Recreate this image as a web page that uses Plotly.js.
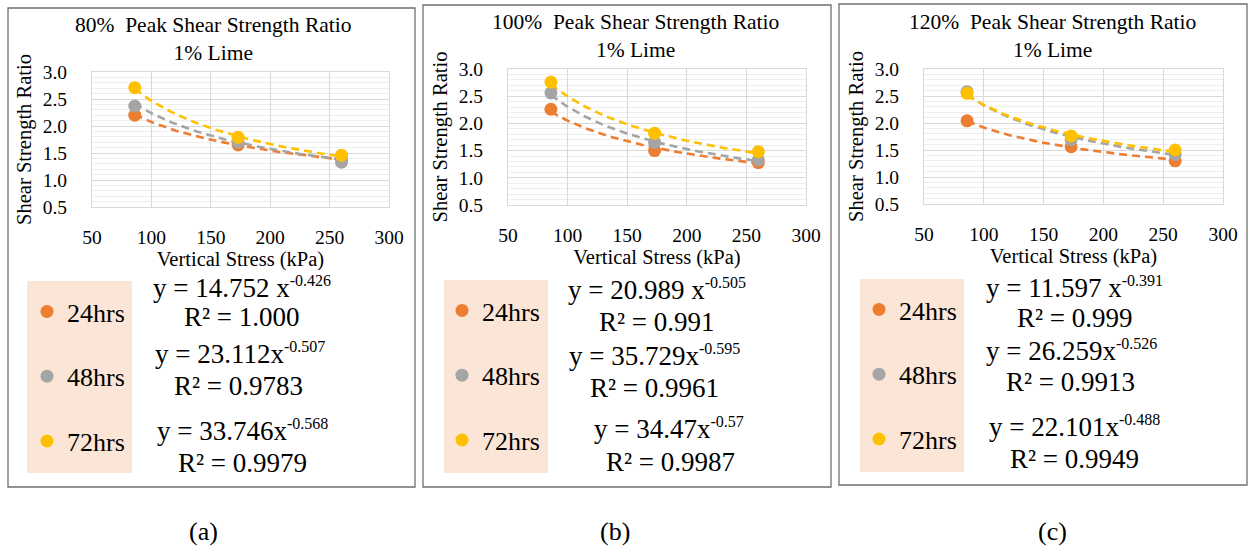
<!DOCTYPE html>
<html>
<head>
<meta charset="utf-8">
<script src="https://cdn.plot.ly/plotly-3.0.1.min.js"></script>
<style>html,body{margin:0;padding:0;background:#fff;}#chart{width:1251px;height:549px;}</style>
</head>
<body>
<div id="chart"></div>
<script>
// ---------- data ----------
const stress = [86, 173, 260];               // Vertical Stress (kPa)
const seriesNames = ['24hrs', '48hrs', '72hrs'];
const seriesColors = ['#ED7D31', '#A5A5A5', '#FFC000'];

// (a) 80% Peak Shear Strength Ratio
const p80_24 = [2.20, 1.65, 1.38];
const p80_48 = [2.37, 1.70, 1.33];
const p80_72 = [2.71, 1.79, 1.46];
const p80_coef = [14.752, 23.112, 33.746];
const p80_exp = [-0.426, -0.507, -0.568];
const p80_eqBase = ['y = 14.752 x', 'y = 23.112x', 'y = 33.746x'];
const p80_eqExp = ['-0.426', '-0.507', '-0.568'];
const p80_r2 = ['R² = 1.000', 'R² = 0.9783', 'R² = 0.9979'];

// (b) 100% Peak Shear Strength Ratio
const p100_24 = [2.26, 1.50, 1.28];
const p100_48 = [2.56, 1.65, 1.33];
const p100_72 = [2.76, 1.82, 1.48];
const p100_coef = [20.989, 35.729, 34.47];
const p100_exp = [-0.505, -0.595, -0.57];
const p100_eqBase = ['y = 20.989 x', 'y = 35.729x', 'y = 34.47x'];
const p100_eqExp = ['-0.505', '-0.595', '-0.57'];
const p100_r2 = ['R² = 0.991', 'R² = 0.9961', 'R² = 0.9987'];

// (c) 120% Peak Shear Strength Ratio
const p120_24 = [2.04, 1.56, 1.30];
const p120_48 = [2.58, 1.69, 1.42];
const p120_72 = [2.55, 1.76, 1.50];
const p120_coef = [11.597, 26.259, 22.101];
const p120_exp = [-0.391, -0.526, -0.488];
const p120_eqBase = ['y = 11.597 x', 'y = 26.259x', 'y = 22.101x'];
const p120_eqExp = ['-0.391', '-0.526', '-0.488'];
const p120_r2 = ['R² = 0.999', 'R² = 0.9913', 'R² = 0.9949'];

const panelTitles = ['80%\u00a0\u00a0Peak Shear Strength Ratio<br>1% Lime',
                     '100%\u00a0\u00a0Peak Shear Strength Ratio<br>1% Lime',
                     '120%\u00a0\u00a0Peak Shear Strength Ratio<br>1% Lime'];
const captions = ['(a)', '(b)', '(c)'];
const xTitle = 'Vertical Stress (kPa)';
const yTitle = 'Shear Strength Ratio';

// ---------- layout geometry (pixels) ----------
const W = 1251, H = 549;
const px = x => x / W;
const py = y => 1 - y / H;
const FONT = 'Liberation Serif, Times New Roman, serif';

const panels = [
  {vals: [p80_24, p80_48, p80_72], coef: p80_coef, ex: p80_exp, eqB: p80_eqBase, eqE: p80_eqExp, r2: p80_r2,
   frame: [8, 8, 415, 487], plot: [92, 72, 389, 207], titleX: 213, titleY: 39,
   legRect: [27, 281, 132, 473], legX: 27, eqX: [242, 242, 240, 239, 242, 242],
   eqY: [287, 317, 353, 386, 430, 463], capX: 203},
  {vals: [p100_24, p100_48, p100_72], coef: p100_coef, ex: p100_exp, eqB: p100_eqBase, eqE: p100_eqExp, r2: p100_r2,
   frame: [423, 5, 831, 487], plot: [508, 69, 806, 205], titleX: 635, titleY: 36,
   legRect: [444, 280, 548, 473], legX: 442, eqX: [657, 657, 654, 654, 669, 670],
   eqY: [289, 322, 355, 388, 428, 462], capX: 615},
  {vals: [p120_24, p120_48, p120_72], coef: p120_coef, ex: p120_exp, eqB: p120_eqBase, eqE: p120_eqExp, r2: p120_r2,
   frame: [839, 4, 1247, 485], plot: [924, 69, 1223, 204], titleX: 1052, titleY: 36,
   legRect: [860, 279, 964, 472], legX: 859, eqX: [1074, 1075, 1071, 1070, 1074, 1074],
   eqY: [287, 318, 350, 382, 426, 459], capX: 1052}
];

const traces = [];
const shapes = [];
const annotations = [];
const layout = {
  width: W, height: H,
  margin: {l: 0, r: 0, t: 0, b: 0},
  paper_bgcolor: '#ffffff', plot_bgcolor: '#ffffff',
  font: {family: FONT, color: '#000000'},
  showlegend: true
};

panels.forEach((p, i) => {
  const sfx = i === 0 ? '' : String(i + 1);
  const xa = 'x' + sfx, ya = 'y' + sfx;
  const legName = 'legend' + sfx;

  // power-law trendlines drawn from the displayed fitted equations
  p.vals.forEach((v, s) => {
    const xs = [], ys = [];
    const x0 = stress[0], x1 = stress[stress.length - 1];
    for (let k = 0; k <= 60; k++) {
      const x = x0 + (x1 - x0) * k / 60;
      xs.push(x);
      ys.push(p.coef[s] * Math.pow(x, p.ex[s]));
    }
    traces.push({type: 'scatter', mode: 'lines', x: xs, y: ys, xaxis: xa, yaxis: ya,
      line: {color: seriesColors[s], width: 2.6, dash: '8px,5px'},
      showlegend: false, hoverinfo: 'skip'});
  });
  // data markers
  p.vals.forEach((v, s) => {
    traces.push({type: 'scatter', mode: 'markers', x: stress, y: v, xaxis: xa, yaxis: ya,
      name: seriesNames[s], legend: legName, legendgroup: 'g' + i + s,
      marker: {color: seriesColors[s], size: 13}});
  });

  const [pl, pt, pr, pb] = p.plot;
  layout['xaxis' + sfx] = {
    domain: [px(pl), px(pr)], anchor: ya, range: [50, 300], dtick: 50, tick0: 50,
    showgrid: true, gridcolor: '#D9D9D9', gridwidth: 1,
    showline: true, linecolor: '#D9D9D9', mirror: true, zeroline: false,
    ticks: '', ticklabelstandoff: 13,
    tickfont: {family: FONT, size: 19.5, color: '#000'},
    title: {text: xTitle, font: {family: FONT, size: 20.5, color: '#000'}, standoff: 0},
    fixedrange: true
  };
  layout['yaxis' + sfx] = {
    domain: [py(pb), py(pt)], anchor: xa, range: [0.5, 3.0], dtick: 0.5, tick0: 0.5,
    tickformat: '.1f',
    showgrid: true, gridcolor: '#D9D9D9', gridwidth: 1,
    minor: {dtick: 0.1, showgrid: true, gridcolor: '#EEEEEE', gridwidth: 1, ticks: ''},
    showline: true, linecolor: '#D9D9D9', mirror: true, zeroline: false,
    ticks: '', ticklabelstandoff: 20,
    tickfont: {family: FONT, size: 19.5, color: '#000'},
    title: {text: yTitle, font: {family: FONT, size: 20.5, color: '#000'}, standoff: 5},
    fixedrange: true
  };

  // legend placed over a peach box
  layout[legName] = {
    x: px(p.legX), y: py(p.legRect[1] + 7), xanchor: 'left', yanchor: 'top',
    bgcolor: 'rgba(0,0,0,0)', borderwidth: 0,
    font: {family: FONT, size: 26, color: '#000'},
    traceorder: 'grouped', tracegroupgap: 28, itemwidth: 30,
    itemclick: false, itemdoubleclick: false
  };

  const [fl, ft, fr, fb] = p.frame;
  shapes.push({type: 'rect', xref: 'paper', yref: 'paper', x0: px(fl), x1: px(fr), y0: py(fb), y1: py(ft),
    line: {color: '#6f6f6f', width: 1.3}, fillcolor: 'rgba(0,0,0,0)', layer: 'below'});
  const [lx0, ly0, lx1, ly1] = p.legRect;
  shapes.push({type: 'rect', xref: 'paper', yref: 'paper', x0: px(lx0), x1: px(lx1), y0: py(ly1), y1: py(ly0),
    line: {width: 0}, fillcolor: '#FBE5D6', layer: 'below'});

  annotations.push({xref: 'paper', yref: 'paper', x: px(p.titleX), y: py(p.titleY),
    xanchor: 'center', yanchor: 'middle', showarrow: false, text: panelTitles[i],
    font: {family: FONT, size: 21.5, color: '#000'}});

  const eqText = k => p.eqB[k] + '<sup><span style="font-size:16px">' + p.eqE[k] + '</span></sup>';
  const lines = [eqText(0), p.r2[0], eqText(1), p.r2[1], eqText(2), p.r2[2]];
  lines.forEach((t, k) => {
    annotations.push({xref: 'paper', yref: 'paper', x: px(p.eqX[k]), y: py(p.eqY[k]),
      xanchor: 'center', yanchor: 'middle', showarrow: false, text: t,
      font: {family: FONT, size: 27, color: '#000'}});
  });

  annotations.push({xref: 'paper', yref: 'paper', x: px(p.capX), y: py(531),
    xanchor: 'center', yanchor: 'middle', showarrow: false, text: captions[i],
    font: {family: FONT, size: 26, color: '#000'}});
});

layout.shapes = shapes;
layout.annotations = annotations;

Plotly.newPlot('chart', traces, layout, {displayModeBar: false});
</script>
</body>
</html>
